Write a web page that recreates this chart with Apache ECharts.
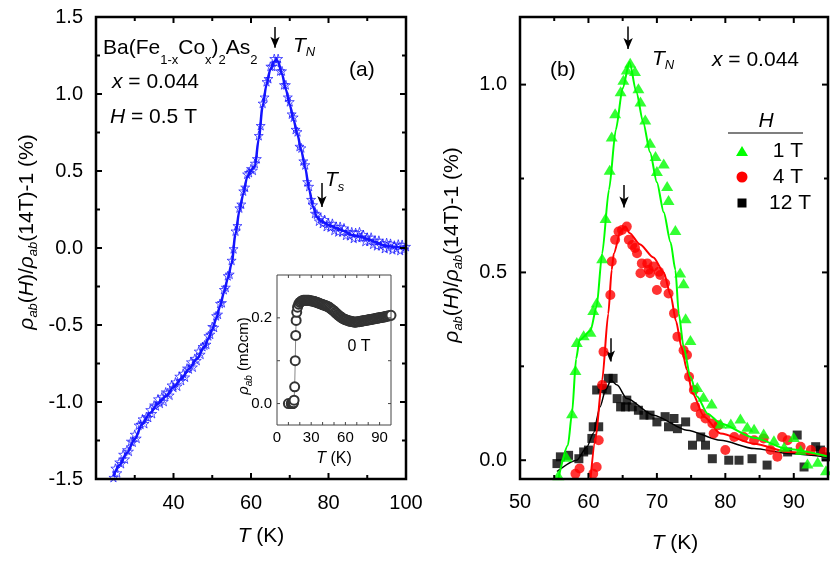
<!DOCTYPE html>
<html><head><meta charset="utf-8">
<script src="https://cdn.jsdelivr.net/npm/echarts@6/dist/echarts.min.js"></script>
<style>html,body{margin:0;padding:0;background:#fff}#c{width:830px;height:562px}</style>
</head><body><div id="c"></div>
<script>
// ---------- DATA ----------
// Panel (a): H = 0.5 T, smooth guide curve and measured points (stars)
const aCurve = [[24.5,-1.485],[26,-1.41],[28,-1.33],[30,-1.24],[32,-1.14],[34,-1.07],[36,-1.01],[38,-0.965],[40,-0.905],[42,-0.85],[44,-0.785],[46,-0.72],[48,-0.64],[49,-0.59],[50,-0.53],[51,-0.46],[52,-0.38],[53,-0.29],[54,-0.2],[55,-0.1],[56,0.09],[57,0.24],[58,0.35],[59,0.46],[60,0.505],[61,0.53],[62,0.71],[63,0.92],[64,1.06],[65,1.16],[66,1.21],[66.5,1.225],[67,1.21],[68,1.13],[69,1.03],[70,0.93],[71,0.83],[72,0.735],[73,0.63],[74,0.52],[75,0.38],[76,0.27],[77,0.2],[78,0.175],[80,0.15],[82,0.13],[84,0.11],[86,0.085],[88,0.075],[90,0.06],[92,0.04],[94,0.02],[96,0.01],[98,0.005],[100,0.0]];
const aStars = [[24.5,-1.49],[25,-1.43],[25.5,-1.46],[26,-1.39],[26.5,-1.40],[27,-1.34],[27.5,-1.37],[28,-1.31],[28.5,-1.32],[29,-1.255],[29.5,-1.26],[30,-1.21],[30.5,-1.235],[31,-1.15],[31.5,-1.145],[32,-1.11],[32.5,-1.14],[33,-1.095],[33.5,-1.10],[34,-1.05],[34.5,-1.075],[35,-1.02],[35.5,-1.025],[36,-0.98],[36.5,-1.008],[37,-0.967],[37.5,-0.996],[38,-0.935],[38.5,-0.94],[39,-0.955],[39.5,-0.89],[40,-0.905],[40.5,-0.87],[41,-0.897],[41.5,-0.833],[42,-0.86],[42.5,-0.814],[43,-0.838],[43.5,-0.78],[44,-0.785],[44.5,-0.74],[45,-0.773],[45.5,-0.717],[46,-0.73],[46.5,-0.67],[47,-0.69],[47.5,-0.64],[48,-0.63],[48.5,-0.625],[49,-0.57],[49.5,-0.56],[50,-0.51],[50.5,-0.515],[51,-0.44],[51.5,-0.43],[52,-0.36],[52.5,-0.355],[53,-0.27],[53.5,-0.255],[54,-0.18],[54.5,-0.17],[55,-0.08],[55.5,-0.005],[56,0.11],[56.5,0.145],[57,0.26],[57.5,0.285],[58,0.37],[58.5,0.395],[59,0.48],[59.5,0.49],[60,0.515],[60.5,0.505],[61,0.55],[61.5,0.58],[62,0.73],[62.5,0.795],[63,0.94],[63.5,0.98],[64,1.08],[64.5,1.10],[65,1.18],[65.5,1.18],[66,1.23],[66.5,1.205],[67,1.23],[67.5,1.15],[68,1.15],[68.5,1.06],[69,1.06],[69.5,0.98],[70,0.95],[70.5,0.87],[71,0.85],[71.5,0.77],[72,0.755],[72.5,0.66],[73,0.65],[73.5,0.565],[74,0.54],[74.5,0.43],[75,0.40],[75.5,0.315],[76,0.28],[76.5,0.225],[77,0.22],[77.5,0.175],[78,0.195],[78.5,0.16],[79,0.185],[79.5,0.14],[80,0.16],[80.5,0.135],[81,0.16],[81.5,0.115],[82,0.14],[82.5,0.105],[83,0.14],[83.5,0.105],[84,0.13],[84.5,0.083],[85,0.107],[85.5,0.08],[86,0.105],[86.5,0.063],[87,0.10],[87.5,0.068],[88,0.105],[88.5,0.071],[89,0.087],[89.5,0.043],[90,0.07],[90.5,0.045],[91,0.07],[91.5,0.025],[92,0.05],[92.5,0.015],[93,0.05],[93.5,0.015],[94,0.03],[94.5,-0.003],[95,0.035],[95.5,0.002],[96,0.03],[96.5,-0.011],[97,0.018],[97.5,-0.003],[98,0.025],[98.5,-0.016],[99,0.023],[99.5,-0.008],[100,0.01]];
const aArrows = [[[66.2,1.435],[66.2,1.30]],[[78.3,0.422],[78.3,0.266]]];

// Inset: rho_ab (mOhm cm) at 0 T
const inset0T = [[10,0],[12.5,0],[13,0],[13.5,0],[14,0],[14.5,0.002],[15,0.008],[15.5,0.039],[16,0.10],[16.4,0.159],[16.8,0.194],[17.3,0.213],[18,0.225],[19,0.232],[20,0.236],[21,0.238],[22,0.24],[23,0.241],[24,0.241],[25,0.241],[26,0.241],[27,0.241],[28,0.241],[29,0.24],[30,0.24],[31,0.239],[32,0.239],[33,0.238],[34,0.237],[35,0.236],[36,0.235],[37,0.234],[38,0.233],[39,0.232],[40,0.231],[41,0.23],[42,0.229],[43,0.228],[44,0.227],[45,0.226],[46,0.224],[47,0.222],[48,0.22],[49,0.218],[50,0.216],[51,0.213],[52,0.211],[53,0.208],[54,0.206],[55,0.204],[56,0.202],[57,0.2],[58,0.198],[59,0.197],[60,0.196],[61,0.195],[62,0.194],[63,0.193],[64,0.192],[65,0.192],[66,0.191],[67,0.191],[68,0.19],[69,0.19],[70,0.191],[71,0.191],[72,0.191],[73,0.192],[74,0.192],[75,0.193],[76,0.193],[77,0.194],[78,0.194],[79,0.195],[80,0.195],[81,0.196],[82,0.196],[83,0.197],[84,0.197],[85,0.198],[86,0.198],[87,0.199],[88,0.199],[89,0.2],[90,0.2],[91,0.201],[92,0.201],[93,0.202],[94,0.202],[95,0.203],[96,0.204],[97,0.204],[98,0.205],[99,0.205],[100,0.206]];

// Panel (b): points and guide curves for H = 1 T, 4 T, 12 T
const b1Pts = [[55.6,-0.04],[56.8,0.009],[57.6,0.125],[58.1,0.24],[58.3,0.315],[59.3,0.333],[60.3,0.342],[60.7,0.40],[61.2,0.42],[62.0,0.538],[62.5,0.645],[63.1,0.773],[63.4,0.862],[63.9,0.924],[64.7,0.982],[65.1,1.013],[65.6,1.04],[66.1,1.058],[66.8,1.036],[67.3,0.99],[67.6,0.955],[68.3,0.907],[69.0,0.845],[69.8,0.81],[70.0,0.77],[71.0,0.79],[71.5,0.73],[71.7,0.693],[72.7,0.613],[73.4,0.50],[73.9,0.471],[74.2,0.378],[74.9,0.32],[75.9,0.195],[76.8,0.169],[78.0,0.151],[79.3,0.098],[80.8,0.098],[82.2,0.111],[83.2,0.089],[84.2,0.084],[85.6,0.071],[87.1,0.053],[88.6,0.036],[90.0,0.062],[91.0,0.027],[92.0,-0.009],[93.5,-0.004],[94.7,-0.027]];
const b4Pts = [[58.1,-0.036],[58.7,-0.022],[60.7,-0.036],[61.2,-0.018],[61.5,0.053],[62.0,0.2],[62.2,0.289],[63.2,0.44],[63.4,0.529],[63.9,0.587],[64.4,0.609],[64.9,0.613],[65.6,0.622],[65.9,0.587],[66.4,0.573],[66.8,0.565],[67.1,0.551],[67.8,0.524],[68.6,0.524],[68.8,0.507],[69.5,0.516],[70.3,0.502],[67.6,0.498],[69.0,0.498],[70.5,0.493],[71.2,0.471],[70.0,0.453],[71.7,0.444],[72.5,0.391],[73.0,0.329],[73.9,0.293],[74.4,0.28],[74.7,0.222],[75.4,0.187],[75.6,0.142],[76.4,0.124],[77.1,0.111],[78.1,0.098],[78.3,0.071],[79.0,0.093],[80.0,0.027],[81.3,0.062],[82.7,0.062],[84.2,0.053],[85.6,0.058],[86.6,0.027],[87.6,0.009],[88.3,0.062],[89.1,0.053],[91.0,0.036],[92.5,0.027],[94.4,0.022]];
const b12Pts = [[55.4,-0.009],[55.9,0.009],[57.1,0.013],[58.6,0.004],[59.3,0.022],[60.0,0.027],[60.5,0.058],[60.7,0.089],[61.5,0.089],[61.2,0.187],[62.0,0.191],[62.7,0.187],[62.9,0.218],[63.6,0.218],[64.2,0.164],[64.7,0.142],[65.6,0.16],[65.4,0.142],[66.4,0.142],[67.3,0.133],[68.1,0.12],[69.0,0.12],[70.0,0.102],[71.2,0.116],[71.7,0.089],[72.5,0.111],[73.0,0.084],[74.2,0.102],[75.2,0.04],[76.4,0.062],[77.1,0.04],[78.1,0.004],[80.5,0.0],[82.0,0.0],[83.9,0.004],[86.1,-0.013],[89.1,0.022],[90.5,0.067],[91.5,-0.018],[93.2,0.036],[93.9,0.027],[94.7,0.009]];
const b1Fit = [[55.6,-0.05],[57,0.04],[57.6,0.125],[58.2,0.27],[58.7,0.32],[60.3,0.345],[61.2,0.41],[62,0.55],[63,0.72],[64,0.88],[65,0.99],[66,1.06],[67,0.98],[68,0.9],[69,0.82],[70,0.74],[71,0.66],[72,0.58],[72.7,0.507],[73.2,0.39],[73.9,0.302],[74.9,0.222],[75.9,0.169],[77.4,0.124],[79.3,0.098],[84.2,0.06],[89.1,0.03],[95,0.01]];
const b4Fit = [[60.3,-0.05],[61,0.053],[62,0.213],[62.9,0.39],[63.4,0.507],[63.7,0.55],[64.7,0.61],[65.4,0.622],[66,0.605],[67.5,0.575],[69.5,0.54],[71,0.5],[72,0.44],[72.8,0.37],[73.6,0.3],[74.4,0.24],[75.2,0.178],[76.9,0.116],[79.3,0.071],[84.2,0.044],[89.1,0.022],[95,0.012]];
const b12Fit = [[55.4,-0.03],[58.3,0.0],[59.8,0.036],[60.7,0.071],[61.7,0.142],[62.5,0.187],[63.3,0.213],[64.2,0.2],[65.6,0.164],[69.5,0.12],[74.4,0.08],[79.3,0.053],[84.2,0.031],[89.1,0.018],[95,0.008]];
const bArrows = [[[65.8,1.155],[65.8,1.095]],[[65.2,0.733],[65.2,0.673]],[[63.2,0.325],[63.2,0.263]]];

// Tick values and tick labels
const aXTicks = [30,40,50,60,70,80,90];
const aYTicks = [-1.25,-1,-0.75,-0.5,-0.25,0,0.25,0.5,0.75,1,1.25];
const bXTicks = [55,60,65,70,75,80,85,90];
const bXLabels = [50,60,70,80,90];
const bYTicks = [0,0.25,0.5,0.75,1.0];
const bYLabels = [0,0.5,1.0];
const inXTicks = [10,20,30,40,50,60,70,80,90];
const inXLabels = [0,30,60,90];
const inYTicks = [0,0.1,0.2];
const inYLabels = [0,0.2];

// ---------- STYLE ----------
const F = 'Liberation Sans, Arial, sans-serif';
const BLUE = '#1414ff', GREEN = '#00ff00', RED = '#ff0000';
const STAR = 'path://M50,0 L61,35 L98,35 L68,57 L79,91 L50,70 L21,91 L32,57 L2,35 L39,35 Z';

function axis(o) {
  const a = {
    gridIndex: o.grid, type: 'value', position: o.pos, min: o.min, max: o.max,
    axisLine: {show: false}, axisTick: {show: false}, minorTick: {show: false},
    axisLabel: {show: true, fontSize: o.fs || 20, fontFamily: F, color: '#000', margin: o.margin || 13},
    splitLine: {show: false}
  };
  if (o.interval) a.interval = o.interval;
  if (o.labels) a.axisLabel.customValues = o.labels;
  if (o.fmt) a.axisLabel.formatter = o.fmt;
  return a;
}
const f1 = v => (Math.abs(v) < 1e-9 ? 0 : v).toFixed(1);
const isMult = (v, m) => Math.abs(v / m - Math.round(v / m)) < 1e-6;

function rich(fs, sfs, lh) {
  return {
    a: {fontSize: fs, fontFamily: F, lineHeight: lh, fill: '#000'},
    i: {fontSize: fs, fontFamily: F, fontStyle: 'italic', lineHeight: lh, fill: '#000'},
    s: {fontSize: sfs, fontFamily: F, lineHeight: sfs, verticalAlign: 'bottom', fill: '#000'},
    si: {fontSize: sfs, fontFamily: F, fontStyle: 'italic', lineHeight: sfs, verticalAlign: 'bottom', fill: '#000'}
  };
}
function txt(x, y, text, opt) {
  opt = opt || {};
  const fs = opt.fs || 21;
  return {type: 'text', x: x, y: y, z: 100, rotation: opt.rot || 0,
    style: {text: text, align: opt.align || 'left', verticalAlign: 'middle', fill: '#000', fontFamily: F, fontSize: fs,
      rich: rich(fs, opt.sfs || 13, opt.lh || 26)}};
}
const arrowMark = arr => ({silent: true, symbol: ['none', 'arrow'], symbolSize: [7, 11], label: {show: false},
  lineStyle: {color: '#000', width: 1.5, type: 'solid'}, emphasis: {disabled: true},
  data: arr.map(p => [{coord: p[0]}, {coord: p[1]}])});

const texts = [
  // panel a texts
  txt(103, 48, '{a|Ba(Fe}{s|1-x}{a|Co}{s|x}{a|)}{s|2}{a|As}{s|2}', {lh: 38}),
  txt(112, 82, '{i|x}{a| = 0.044}'),
  txt(110, 117, '{i|H}{a| = 0.5 T}'),
  txt(293, 46, '{i|T}{si|N}', {lh: 26}),
  txt(325, 180, '{i|T}{si|s}', {lh: 28}),
  txt(349, 70, '{a|(a)}'),
  txt(27, 232, '{i|ρ}{si|ab}{a|(}{i|H}{a|)/}{i|ρ}{si|ab}{a|(14T)-1 (%)}', {align: 'center', rot: Math.PI / 2}),
  txt(261, 536, '{i|T}{a| (K)}', {align: 'center'}),
  // inset texts
  txt(359, 347, '{a|0 T}', {align: 'center', fs: 16}),
  txt(244, 356, '{i|ρ}{si|ab}{a| (mΩcm)}', {align: 'center', fs: 15, sfs: 10, lh: 20, rot: Math.PI / 2}),
  txt(334, 459, '{i|T}{a| (K)}', {align: 'center', fs: 16}),
  // panel b texts
  txt(550, 70, '{a|(b)}'),
  txt(652, 59, '{i|T}{si|N}', {lh: 26}),
  txt(712, 60, '{i|x}{a| = 0.044}'),
  txt(452, 245, '{i|ρ}{si|ab}{a|(}{i|H}{a|)/}{i|ρ}{si|ab}{a|(14T)-1 (%)}', {align: 'center', rot: Math.PI / 2}),
  txt(675, 543, '{i|T}{a| (K)}', {align: 'center'}),
  // legend of panel b
  txt(766, 121, '{i|H}', {align: 'center'}),
  {type: 'line', z: 100, shape: {x1: 728, y1: 133, x2: 803, y2: 133}, style: {stroke: '#000', lineWidth: 1.2}},
  {type: 'polygon', z: 100, shape: {points: [[742, 146], [748, 156], [736, 156]]}, style: {fill: GREEN}},
  {type: 'circle', z: 100, shape: {cx: 742, cy: 177, r: 5.5}, style: {fill: RED}},
  {type: 'rect', z: 100, shape: {x: 737.5, y: 198.5, width: 9, height: 9}, style: {fill: '#000'}},
  txt(788, 151, '{a|1 T}', {align: 'center'}),
  txt(788, 177, '{a|4 T}', {align: 'center'}),
  txt(790, 203, '{a|12 T}', {align: 'center'})
];

const chart = echarts.init(document.getElementById('c'));
const option = {
  animation: false,
  backgroundColor: '#fff',
  grid: [
    {left: 96, top: 17, width: 310, height: 462},
    {left: 520, top: 17, width: 308, height: 462},
    {left: 277, top: 275, width: 114, height: 150}
  ],
  xAxis: [
    axis({grid: 0, pos: 'bottom', min: 20, max: 100, interval: 20, margin: 14, fmt: v => (v === 20 ? '' : String(v))}),
    axis({grid: 1, pos: 'bottom', min: 50, max: 95, labels: bXLabels, margin: 13}),
    axis({grid: 2, pos: 'bottom', min: 0, max: 100, labels: inXLabels, fs: 15, margin: 5})
  ],
  yAxis: [
    axis({grid: 0, pos: 'left', min: -1.5, max: 1.5, interval: 0.5, margin: 13, fmt: f1}),
    axis({grid: 1, pos: 'left', min: -0.05, max: 1.18, labels: bYLabels, margin: 13, fmt: f1}),
    axis({grid: 2, pos: 'left', min: -0.05, max: 0.3, labels: inYLabels, fs: 15, margin: 5, fmt: f1})
  ],
  series: [
    {type: 'scatter', xAxisIndex: 0, yAxisIndex: 0, data: aStars, symbol: STAR, symbolSize: 9,
      itemStyle: {color: 'rgba(255,255,255,0)', borderColor: BLUE, borderWidth: 0.9}, z: 2},
    {type: 'line', xAxisIndex: 0, yAxisIndex: 0, data: aCurve, smooth: 0.3, smoothMonotone: 'x', showSymbol: false,
      lineStyle: {color: BLUE, width: 2.5}, z: 3, markLine: arrowMark(aArrows)},
    {type: 'line', xAxisIndex: 2, yAxisIndex: 2, data: inset0T, symbol: 'emptyCircle', symbolSize: 9, showAllSymbol: true,
      lineStyle: {color: '#888', width: 1}, itemStyle: {color: '#333', borderColor: '#333', borderWidth: 0.6}},
    // panel b
    {type: 'line', xAxisIndex: 1, yAxisIndex: 1, data: b12Fit, smooth: 0.25, smoothMonotone: 'x', showSymbol: false, lineStyle: {color: '#000', width: 1.5}, z: 2},
    {type: 'scatter', xAxisIndex: 1, yAxisIndex: 1, data: b12Pts, symbol: 'rect', symbolSize: 9, itemStyle: {color: '#000'}, z: 3},
    {type: 'line', xAxisIndex: 1, yAxisIndex: 1, data: b4Fit, smooth: 0.25, smoothMonotone: 'x', showSymbol: false, lineStyle: {color: RED, width: 2}, z: 4},
    {type: 'scatter', xAxisIndex: 1, yAxisIndex: 1, data: b4Pts, symbol: 'circle', symbolSize: 10, itemStyle: {color: RED}, z: 5},
    {type: 'line', xAxisIndex: 1, yAxisIndex: 1, data: b1Fit, smooth: 0.25, smoothMonotone: 'x', showSymbol: false, lineStyle: {color: GREEN, width: 2}, z: 6},
    {type: 'scatter', xAxisIndex: 1, yAxisIndex: 1, data: b1Pts, symbol: 'triangle', symbolSize: [12, 10], itemStyle: {color: GREEN}, z: 7,
      markLine: arrowMark(bArrows)}
  ],
  graphic: texts
};
chart.setOption(option);

// Frame (mirrored axes on all four sides) with inward ticks, placed through the axes' own scales
const frames = [
  {i: 0, xr: [20, 100], yr: [-1.5, 1.5], xt: aXTicks, yt: aYTicks, xm: 20, ym: 0.5, lw: 2.5, tw: 2, tl: 6, tm: 4, color: '#000'},
  {i: 1, xr: [50, 95], yr: [-0.05, 1.18], xt: bXTicks, yt: bYTicks, xm: 10, ym: 0.5, lw: 2.5, tw: 2, tl: 6, tm: 4, color: '#000'},
  {i: 2, xr: [0, 100], yr: [-0.05, 0.3], xt: inXTicks, yt: inYTicks, xm: 10, ym: 0.1, lw: 1, tw: 1, tl: 3, tm: 3, color: '#444'}
];
const frameEls = [];
frames.forEach(fr => {
  const px = v => chart.convertToPixel({xAxisIndex: fr.i}, v);
  const py = v => chart.convertToPixel({yAxisIndex: fr.i}, v);
  const L = px(fr.xr[0]), R = px(fr.xr[1]), T = py(fr.yr[1]), B = py(fr.yr[0]);
  const seg = (x1, y1, x2, y2) => frameEls.push({type: 'line', z: 101, silent: true,
    shape: {x1: x1, y1: y1, x2: x2, y2: y2}, style: {stroke: fr.color, lineWidth: fr.tw}});
  fr.xt.forEach(v => {
    const x = px(v), len = isMult(v, fr.xm) ? fr.tl : fr.tm;
    seg(x, B, x, B - len); seg(x, T, x, T + len);
  });
  fr.yt.forEach(v => {
    const y = py(v), len = isMult(v, fr.ym) ? fr.tl : fr.tm;
    seg(L, y, L + len, y); seg(R, y, R - len, y);
  });
  frameEls.push({type: 'rect', z: 101, silent: true, shape: {x: L, y: T, width: R - L, height: B - T},
    style: {fill: 'none', stroke: fr.color, lineWidth: fr.lw}});
});
chart.setOption({graphic: texts.concat(frameEls)});
</script></body></html>
